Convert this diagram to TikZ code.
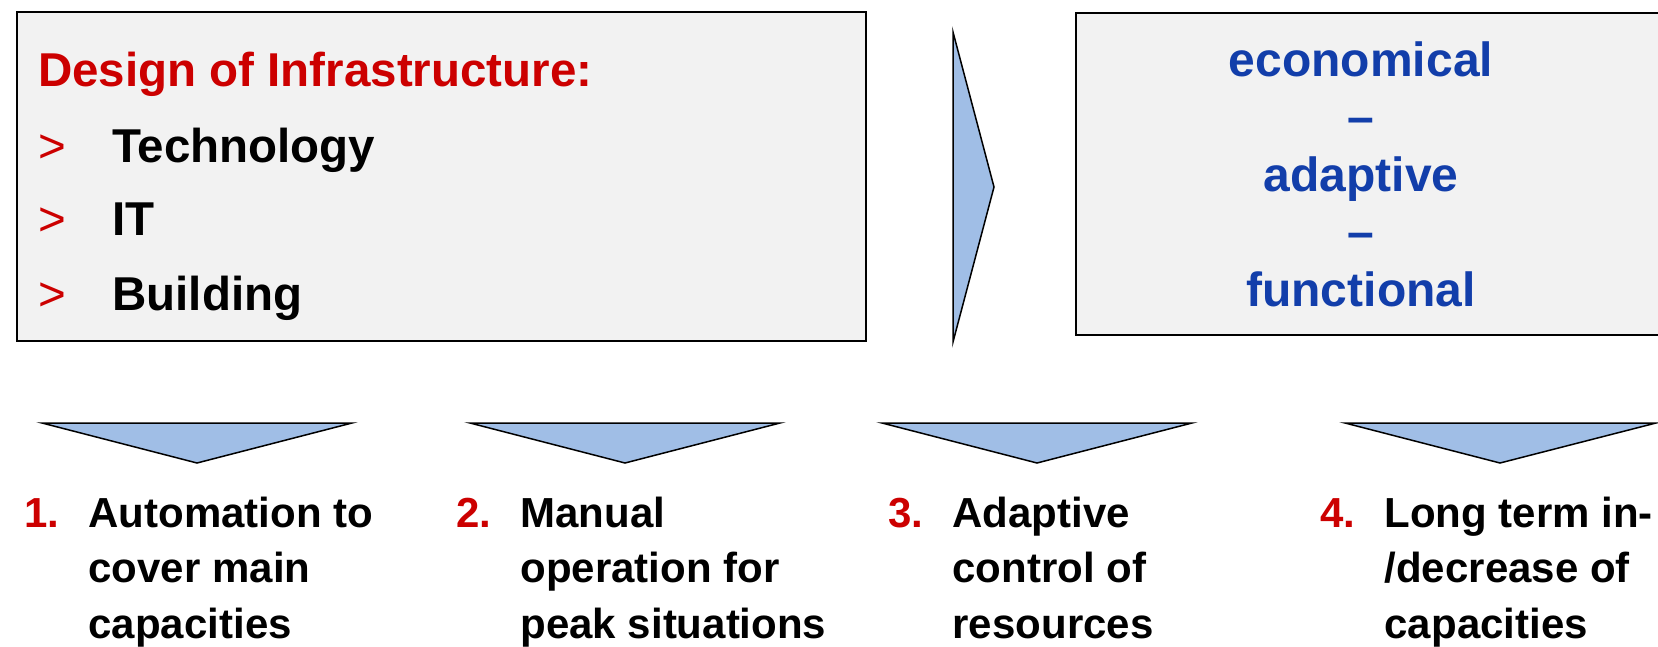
\documentclass[tikz,border=0pt]{standalone}
\usepackage{fontspec}
\setmainfont{Liberation Sans}
\usepackage{xcolor}
\usetikzlibrary{positioning}

\definecolor{headred}{RGB}{204,0,0}
\definecolor{goalblue}{RGB}{18,62,170}
\definecolor{panelgray}{RGB}{242,242,242}
\definecolor{arrowblue}{RGB}{160,190,230}

\begin{document}
\begin{tikzpicture}[x=1pt, y=-1pt,
  panel/.style={rectangle, draw=black, line width=2pt, fill=panelgray,
    anchor=north west, inner sep=0pt},
  head/.style={inner sep=0pt, anchor=base west, text=headred,
    font=\fontsize{47.5}{57}\selectfont\bfseries},
  bullet/.style={inner sep=0pt, anchor=base west, text=headred,
    font=\fontsize{47.5}{57}\selectfont},
  entry/.style={inner sep=0pt, anchor=base west,
    font=\fontsize{47.5}{57}\selectfont\bfseries},
  goal/.style={inner sep=0pt, anchor=base, align=center, text=goalblue,
    font=\fontsize{48}{57.5}\selectfont\bfseries},
  num/.style={inner sep=0pt, anchor=base west, text=headred,
    font=\fontsize{42}{55.5}\selectfont\bfseries},
  stepbox/.style={inner sep=0pt, align=left,
    font=\fontsize{42}{55.5}\selectfont\bfseries},
  chevron/.style={draw=black, line width=1.5pt, fill=arrowblue}
]
  \useasboundingbox (0,0) rectangle (1658,646);

  % two panels on top
  \node[panel, minimum width=849, minimum height=329] (design) at (16,11) {};
  \node[panel, minimum width=600, minimum height=322] (goals) at (1075,12) {};

  \node[head] (title) at (38,86) {Design of Infrastructure:};
  \node[bullet] (b1) at (38,162) {>};
  \node[bullet] (b2) at (38,235) {>};
  \node[bullet] (b3) at (38,310) {>};
  \node[entry, right=46pt of b1.base east, anchor=base west] (tech) {Technology};
  \node[entry, right=46pt of b2.base east, anchor=base west] (it)   {IT};
  \node[entry, right=46pt of b3.base east, anchor=base west] (bldg) {Building};

  % base of a multi-line node is its last line
  \node[goal] (aims) at (1361,306) {economical\\–\\adaptive\\–\\functional};

  % arrow between the panels
  \draw[chevron] (953,32) -- (994,187) -- (953,342) -- cycle;

  % arrows pointing down to the four steps
  \draw[chevron] (42,423)   -- (352,423)  -- (197,463)  -- cycle;
  \draw[chevron] (470,423)  -- (780,423)  -- (625,463)  -- cycle;
  \draw[chevron] (882,423)  -- (1192,423) -- (1037,463) -- cycle;
  \draw[chevron] (1345,423) -- (1656,423) -- (1500,463) -- cycle;

  \node[num] (n1) at (24,527)   {1.};
  \node[num] (n2) at (456,527)  {2.};
  \node[num] (n3) at (888,527)  {3.};
  \node[num] (n4) at (1320,527) {4.};
  \node[stepbox, below right=111pt and 29pt of n1.base east, anchor=base west] (s1)
    {Automation to\\cover main\\capacities};
  \node[stepbox, below right=111pt and 29pt of n2.base east, anchor=base west] (s2)
    {Manual\\operation for\\peak situations};
  \node[stepbox, below right=111pt and 29pt of n3.base east, anchor=base west] (s3)
    {Adaptive\\control of\\resources};
  \node[stepbox, below right=111pt and 29pt of n4.base east, anchor=base west] (s4)
    {Long term in-\\/decrease of\\capacities};
\end{tikzpicture}
\end{document}
